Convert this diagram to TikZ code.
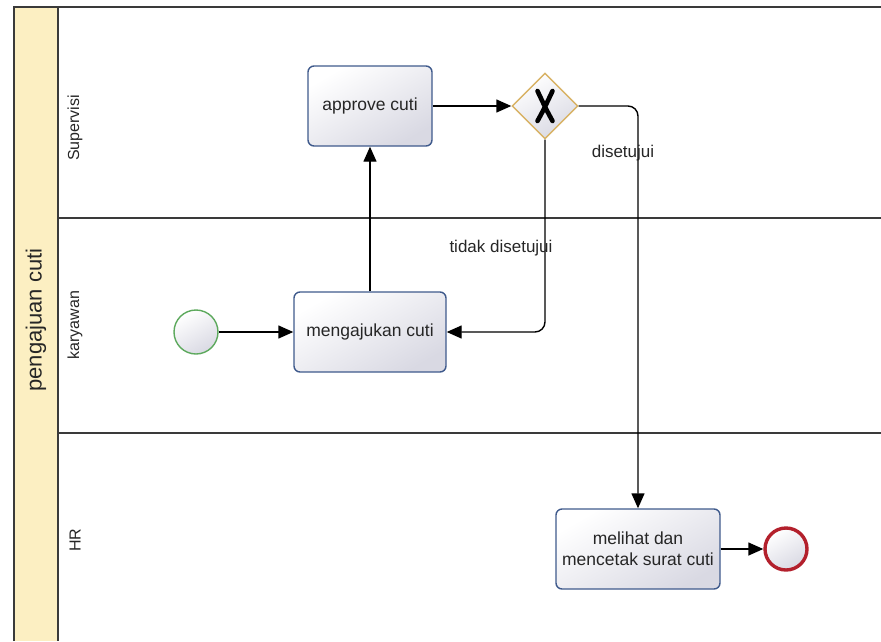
\documentclass[tikz,border=0pt]{standalone}
\usepackage{fontspec}
\setmainfont{Liberation Sans}
\usetikzlibrary{arrows.meta,shapes.geometric}

\definecolor{poolline}{HTML}{3A3A3A}
\definecolor{poolfill}{HTML}{FCEFC2}
\definecolor{txt}{HTML}{262626}
\definecolor{taskline}{HTML}{3F5A8C}
\definecolor{taskshade}{HTML}{D9D9E3}
\definecolor{gwline}{HTML}{D8B264}
\definecolor{startline}{HTML}{5DA95D}
\definecolor{endline}{HTML}{B3202C}

\tikzset{
  flow/.style={draw=black, line width=1.4pt, rounded corners=10pt,
               -{Triangle[length=15pt,width=13pt]}},
  taskbox/.style={draw=taskline, line width=1.4pt, rounded corners=6pt,
                  top color=white, bottom color=taskshade, shading angle=30,
                  align=center, text=txt, font=\fontsize{17.5}{21}\selectfont,
                  inner sep=0pt},
  gatebox/.style={diamond, draw=gwline, line width=1.4pt,
                  top color=white, bottom color=taskshade, shading angle=30,
                  minimum width=66pt, minimum height=66pt, inner sep=0pt},
  startev/.style={circle, draw=startline, line width=1.4pt,
                  top color=white, bottom color=taskshade, shading angle=30,
                  minimum size=44pt, inner sep=0pt},
  endev/.style={circle, draw=endline, line width=3.4pt,
                top color=white, bottom color=taskshade, shading angle=30,
                minimum size=42pt, inner sep=0pt},
  lanelabel/.style={rotate=90, text=txt, font=\fontsize{16}{19}\selectfont},
  poollabel/.style={rotate=90, text=txt, font=\fontsize{22}{26}\selectfont},
  flowlabel/.style={text=txt, font=\fontsize{17}{20}\selectfont, inner sep=1pt},
}

\begin{document}
\begin{tikzpicture}[x=1pt, y=-1pt]
  \useasboundingbox (0,0) rectangle (881,641);

  % pool header column and lane dividers
  \fill[poolfill] (14,7) rectangle (58,641);
  \draw[poolline, line width=1.5pt] (14,641) -- (14,7) -- (881,7);
  \draw[poolline, line width=1.5pt] (58,7) -- (58,641);
  \draw[poolline, line width=1.3pt] (58,218) -- (881,218);
  \draw[poolline, line width=1.3pt] (58,433) -- (881,433);

  \node[poollabel] (pool) at (36,320) {pengajuan cuti};
  \node[lanelabel] (laneSup) at (75,128) {Supervisi};
  \node[lanelabel] (laneKar) at (75,325) {karyawan};
  \node[lanelabel] (laneHR)  at (75,540) {HR};

  % flow objects
  \node[startev] (start) at (196,332) {};
  \node[taskbox, minimum width=152pt, minimum height=80pt] (ajukan) at (370,332) {mengajukan cuti};
  \node[taskbox, minimum width=124pt, minimum height=80pt] (approve) at (370,106) {approve cuti};
  \node[gatebox] (gw) at (545,106) {};
  \node[taskbox, minimum width=164pt, minimum height=80pt] (cetak) at (638,549) {melihat dan\\mencetak surat cuti};
  \node[endev] (end) at (786,549) {};

  % exclusive gateway marker
  \draw[black, line width=4.6pt, line cap=round]
    ([shift={(-7.5pt,-15pt)}]gw.center) .. controls ([shift={(-1pt,-3pt)}]gw.center) .. ([shift={(7.5pt,15pt)}]gw.center)
    ([shift={(7.5pt,-15pt)}]gw.center) .. controls ([shift={(1pt,-3pt)}]gw.center) .. ([shift={(-7.5pt,15pt)}]gw.center);

  % sequence flows
  \draw[flow] (start) -- (ajukan);
  \draw[flow] (ajukan.north) -- (approve.south);
  \draw[flow] (approve.east) -- (gw.west);
  \draw[flow] (gw.east) -| (cetak.north);
  \draw[flow] (gw.south) |- (ajukan.east);
  \draw[flow] (cetak) -- (end);

  % flow labels
  \node[flowlabel] (lblYes) at (623,153) {disetujui};
  \node[flowlabel] (lblNo) at (501,248) {tidak disetujui};
\end{tikzpicture}
\end{document}
